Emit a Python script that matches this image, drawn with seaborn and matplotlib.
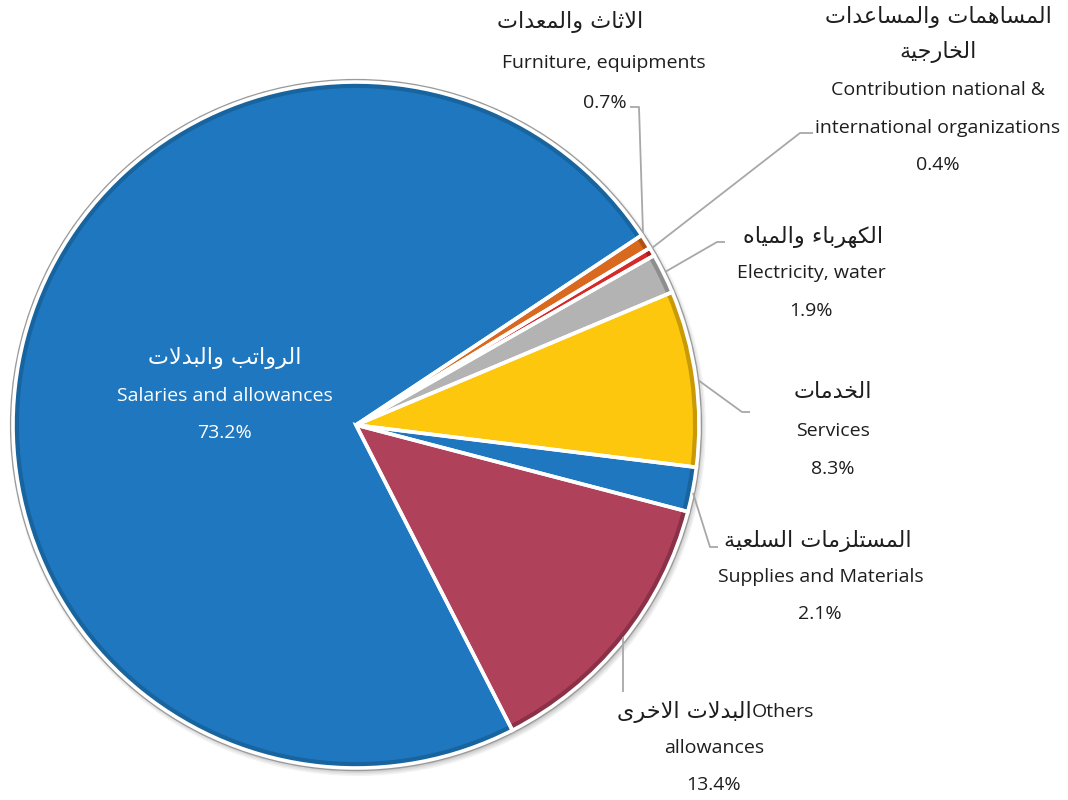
import matplotlib
matplotlib.use("Agg")
import matplotlib.pyplot as plt
from matplotlib.patches import Circle
import seaborn as sns

# ---- data -------------------------------------------------------------
labels_en = ["Salaries and allowances", "Others allowances", "Supplies and Materials",
             "Services", "Electricity, water",
             "Contribution national & international organizations", "Furniture, equipments"]
labels_ar = ["الرواتب والبدلات", "البدلات الاخرى", "المستلزمات السلعية",
             "الخدمات", "الكهرباء والمياه", "المساهمات والمساعدات الخارجية", "الاثاث والمعدات"]
shares = [73.2, 13.4, 2.1, 8.3, 1.9, 0.4, 0.7]
colors = ["#1f78bf", "#b0415b", "#1f78bf", "#fcc70d", "#b3b3b3", "#d42a2a", "#d9691e"]
rim_colors = ["#17649f", "#8a3047", "#17649f", "#c99a06", "#8e8e8e", "#a81c1c", "#ad5214"]

# ---- Arabic shaping (presentation forms, visual order) ----------------
FORMS = {
    'ء': ('\uFE80', None, None, None),
    'ا': ('\uFE8D', '\uFE8E', None, None),
    'ب': ('\uFE8F', '\uFE90', '\uFE91', '\uFE92'),
    'ة': ('\uFE93', '\uFE94', None, None),
    'ت': ('\uFE95', '\uFE96', '\uFE97', '\uFE98'),
    'ث': ('\uFE99', '\uFE9A', '\uFE9B', '\uFE9C'),
    'ج': ('\uFE9D', '\uFE9E', '\uFE9F', '\uFEA0'),
    'خ': ('\uFEA5', '\uFEA6', '\uFEA7', '\uFEA8'),
    'د': ('\uFEA9', '\uFEAA', None, None),
    'ر': ('\uFEAD', '\uFEAE', None, None),
    'ز': ('\uFEAF', '\uFEB0', None, None),
    'س': ('\uFEB1', '\uFEB2', '\uFEB3', '\uFEB4'),
    'ع': ('\uFEC9', '\uFECA', '\uFECB', '\uFECC'),
    'ك': ('\uFED9', '\uFEDA', '\uFEDB', '\uFEDC'),
    'ل': ('\uFEDD', '\uFEDE', '\uFEDF', '\uFEE0'),
    'م': ('\uFEE1', '\uFEE2', '\uFEE3', '\uFEE4'),
    'ه': ('\uFEE9', '\uFEEA', '\uFEEB', '\uFEEC'),
    'و': ('\uFEED', '\uFEEE', None, None),
    'ى': ('\uFEEF', '\uFEF0', None, None),
    'ي': ('\uFEF1', '\uFEF2', '\uFEF3', '\uFEF4'),
}


def shape(text):
    out = []
    i = 0
    while i < len(text):
        c = text[i]
        if c not in FORMS:
            out.append(c)
            i += 1
            continue
        prev = text[i - 1] if i > 0 else None
        joins_prev = prev in FORMS and FORMS[prev][2] is not None
        if c == 'ل' and i + 1 < len(text) and text[i + 1] == 'ا':
            out.append('\uFEFC' if joins_prev else '\uFEFB')
            i += 2
            continue
        nxt = text[i + 1] if i + 1 < len(text) else None
        joins_next = FORMS[c][2] is not None and nxt in FORMS
        iso, fin, ini, med = FORMS[c]
        if joins_prev and joins_next:
            out.append(med)
        elif joins_prev:
            out.append(fin)
        elif joins_next:
            out.append(ini)
        else:
            out.append(iso)
        i += 1
    return ''.join(reversed(out))


# ---- figure -----------------------------------------------------------
sns.set_theme(style="white")
plt.rcParams['font.family'] = ['Open Sans', 'DejaVu Sans']

W, H = 1068, 800
fig = plt.figure(figsize=(W / 100, H / 100), dpi=100)
fig.patch.set_facecolor("white")
ax = fig.add_axes([0, 0, 1, 1])


def P(x, y):
    return x, H - y


CX, CY = P(356, 425)
R = 343

# soft drop shadow under the pie
for k, a in enumerate([0.05, 0.05, 0.06, 0.07]):
    ax.add_patch(Circle((CX + 2, CY - 3), R + 5 - k * 1.5, color="black", alpha=a, lw=0, zorder=0))
ax.add_patch(Circle((CX, CY), R + 2, facecolor="none", edgecolor="#9a9a9a", lw=1.6, zorder=1))

START = 33.6
# bevelled rim
ax.pie(shares, colors=rim_colors, startangle=START, counterclock=True,
       radius=R, center=(CX, CY), wedgeprops=dict(linewidth=0, zorder=2))
# main face
ax.pie(shares, colors=colors, startangle=START, counterclock=True,
       radius=R - 6, center=(CX, CY), wedgeprops=dict(linewidth=0, zorder=3))
# white separators between slices
sep, _ = ax.pie(shares, startangle=START, counterclock=True,
                radius=R, center=(CX, CY),
                wedgeprops=dict(fill=False, edgecolor="white", linewidth=2.6, zorder=4))

ax.set_xlim(0, W)
ax.set_ylim(0, H)
ax.set_aspect("equal")
ax.axis("off")

AR_SIZE = 16
EN_SIZE = 14
DARK = "#1e1e1e"


def ar(x, y, s, color=DARK, ha="center"):
    ax.text(*P(x, y), shape(s), fontsize=AR_SIZE, family=['DejaVu Sans'], color=color,
            ha=ha, va="center", zorder=6)


def en(x, y, s, color=DARK, ha="center"):
    ax.text(*P(x, y), s, fontsize=EN_SIZE, color=color, ha=ha, va="center", zorder=6)


def leader(pts):
    xs, ys = zip(*[P(x, y) for x, y in pts])
    ax.plot(xs, ys, color="#a8a8a8", lw=1.3, zorder=5, solid_capstyle="butt")


pct = [f"{v:.1f}%" for v in shares]

# Salaries and allowances (inside slice)
ar(225, 358, labels_ar[0], color="white")
en(225, 396, labels_en[0], color="white")
en(225, 433, pct[0], color="white")

# Others allowances
ar(752, 712, labels_ar[1], ha="right")
en(752, 712, "Others", ha="left")
en(714, 748, "allowances")
en(714, 785, pct[1])
leader([(623, 637), (623, 692)])

# Supplies and Materials
ar(818, 541, labels_ar[2])
en(821, 577, labels_en[2])
en(820, 614, pct[2])
leader([(693, 493), (710, 547), (718, 547)])

# Services
ar(833, 392, labels_ar[3])
en(833, 431, labels_en[3])
en(833, 469, pct[3])
leader([(698, 380), (742, 412), (750, 412)])

# Electricity, water
ar(813, 237, labels_ar[4])
en(811, 273, labels_en[4])
en(811, 311, pct[4])
leader([(665, 272), (717, 242), (725, 242)])

# Contribution national & international organizations
ar(938, 17, "المساهمات والمساعدات")
ar(938, 52, "الخارجية")
en(938, 90, "Contribution national &")
en(938, 128, "international organizations")
en(938, 165, pct[5])
leader([(652, 248), (800, 133), (813, 133)])

# Furniture, equipments
ar(570, 22, labels_ar[6])
en(604, 63, labels_en[6])
en(605, 103, pct[6])
leader([(630, 107), (639, 107), (643, 233)])

fig.savefig("out.png", dpi=100, facecolor="white")
